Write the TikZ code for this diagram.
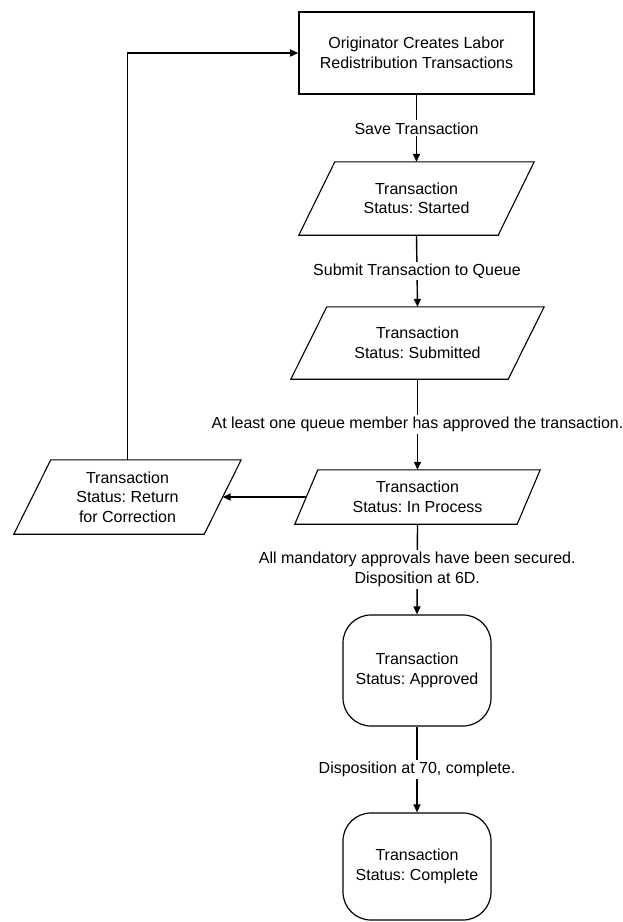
\documentclass[tikz,border=0pt]{standalone}
\usepackage{fontspec}
\setmainfont{Liberation Sans}
\usetikzlibrary{arrows.meta}
\frenchspacing
\newcommand\drawpara[2]{\draw[shapeline] ([xshift=#2]#1.north west) -- (#1.north east) -- ([xshift=-#2]#1.south east) -- (#1.south west) -- cycle;}
\begin{document}
\begin{tikzpicture}[x=1pt,y=-1pt,
  every node/.style={font=\fontsize{16}{19.5}\selectfont},
  box/.style={draw, line width=1.6pt, minimum width=235pt, minimum height=82pt, align=center, inner sep=0pt},
  paratext/.style={align=center, inner sep=0pt},
  term/.style={draw, line width=1.2pt, rounded corners=28pt, minimum width=148pt, align=center, inner sep=0pt},
  arr/.style={line width=1.4pt, -{Triangle[length=8pt,width=7pt]}},
  lbl/.style={fill=white, inner sep=2pt, align=center},
  shapeline/.style={line width=1.1pt, line join=miter}]
\useasboundingbox (0,0) rectangle (623,922);
\node[box] (orig) at (416.5,53) {Originator Creates Labor\\Redistribution Transactions};
\node[paratext, minimum width=235pt, minimum height=73pt] (st) at (416.5,198.5) {Transaction\\Status: Started};
\drawpara{st}{36pt}
\node[paratext, minimum width=253pt, minimum height=72pt] (sub) at (417.5,343) {Transaction\\Status: Submitted};
\drawpara{sub}{36pt}
\node[paratext, minimum width=245pt, minimum height=54pt] (inp) at (417.5,497) {Transaction\\Status: In Process};
\drawpara{inp}{23pt}
\node[paratext, minimum width=227pt, minimum height=74pt] (ret) at (127.5,497) {Transaction\\Status: Return\\for Correction};
\drawpara{ret}{37pt}
\node[term, minimum height=111pt] (app) at (417,670.5) {Transaction\\Status: Approved};
\node[term, minimum height=107pt] (cmp) at (417,866.5) {Transaction\\Status: Complete};
\draw[arr] (orig.south) -- node[lbl] {Save Transaction} (st.north);
\draw[arr] (st.south) -- node[lbl] {Submit Transaction to Queue} (sub.north);
\draw[arr] (sub.south) -- node[lbl] {At least one queue member has approved the transaction.} (inp.north);
\draw[arr] (inp.south) -- node[lbl] {All mandatory approvals have been secured.\\Disposition at 6D.} (app.north);
\draw[arr] (app.south) -- node[lbl] {Disposition at 70, complete.} (cmp.north);
\draw[arr, line width=2.2pt] ([xshift=11.5pt]inp.west) -- ([xshift=-18.5pt]ret.east);
\draw[arr] (ret.north) |- (orig.west);
\end{tikzpicture}
\end{document}
